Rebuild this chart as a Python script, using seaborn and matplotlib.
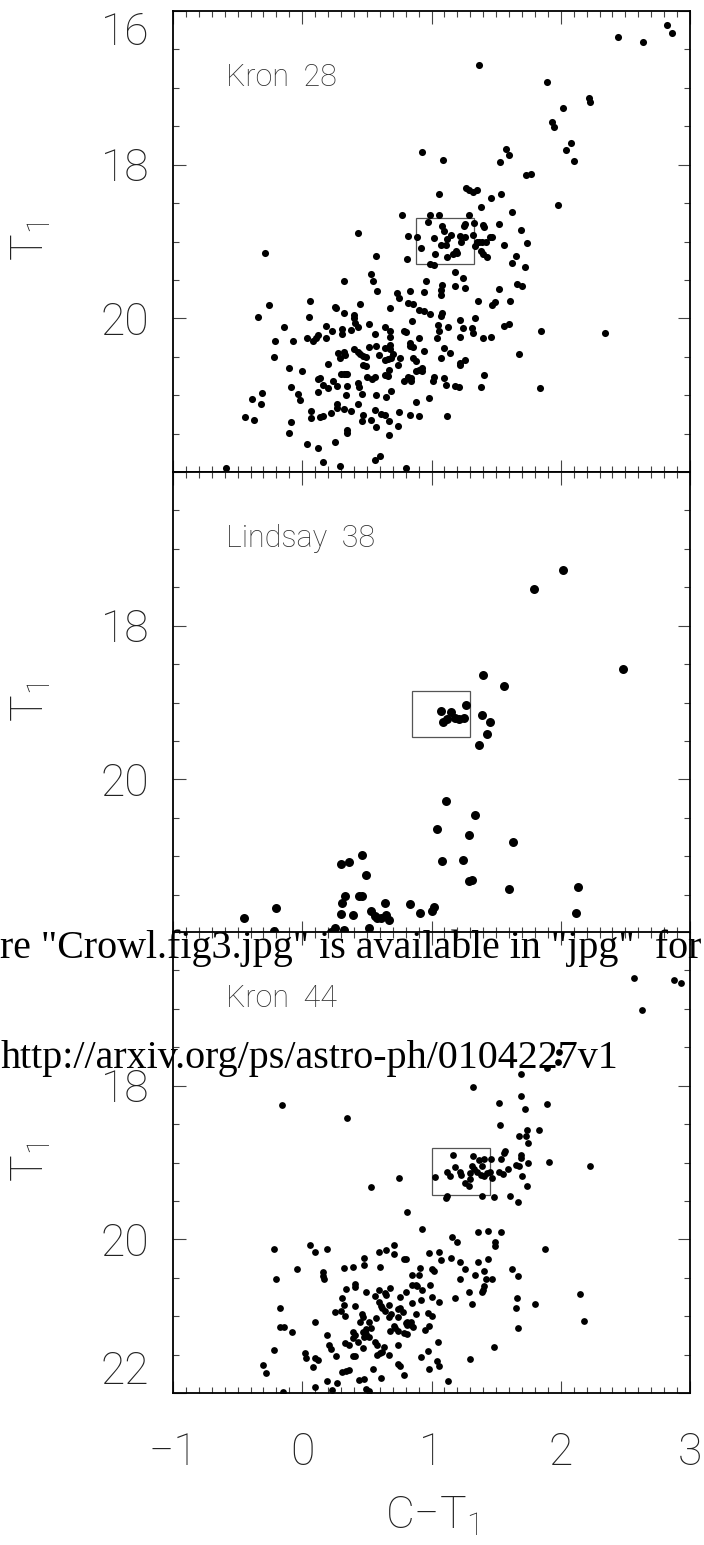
import numpy as np
import pandas as pd
import matplotlib
matplotlib.use("Agg")
import matplotlib.pyplot as plt
import seaborn as sns
from matplotlib.patches import Rectangle
from matplotlib.ticker import MultipleLocator

# (C-T1, T1)
kron28 = [
    (2.82, 16.18), (2.86, 16.29), (2.44, 16.34), (2.64, 16.40), (1.37, 16.70), (1.89, 16.93),
    (2.22, 17.13), (2.23, 17.19), (2.02, 17.26), (1.93, 17.45), (1.95, 17.51), (2.08, 17.72),
    (2.04, 17.81), (2.10, 17.95), (1.58, 17.79), (1.60, 17.87), (1.53, 17.96), (0.93, 17.84),
    (1.09, 17.94), (1.73, 18.14), (1.77, 18.12), (1.98, 18.52), (2.34, 20.19), (1.27, 18.31),
    (1.29, 18.33), (1.32, 18.36), (1.35, 18.33), (1.06, 18.38), (1.54, 18.38), (1.46, 18.44),
    (1.38, 18.55), (1.62, 18.61), (0.77, 18.66), (0.99, 18.65), (1.06, 18.65), (1.29, 18.66),
    (0.97, 18.74), (1.08, 18.80), (1.10, 18.86), (1.25, 18.80), (1.26, 18.77), (1.33, 18.76),
    (1.40, 18.79), (1.41, 18.81), (1.52, 18.77), (1.69, 18.85), (0.43, 18.89), (0.82, 18.93),
    (0.89, 18.94), (0.92, 19.08), (1.02, 18.96), (1.12, 18.97), (1.07, 19.04), (1.11, 19.04),
    (1.15, 18.91), (1.22, 18.93), (1.26, 18.94), (1.23, 19.00), (1.32, 18.91), (1.45, 18.94),
    (1.47, 18.94), (1.74, 19.02), (1.35, 19.01), (1.37, 19.01), (1.39, 19.01), (1.42, 19.01),
    (1.34, 19.06), (1.38, 19.13), (1.40, 19.16), (1.43, 19.20), (1.56, 19.05), (1.65, 19.19),
    (1.62, 19.28), (1.72, 19.33), (1.03, 19.16), (1.12, 19.20), (1.17, 19.16), (1.19, 19.13),
    (1.20, 19.15), (0.57, 19.19), (0.81, 19.23), (0.99, 19.29), (1.02, 19.30), (-0.29, 19.15),
    (1.18, 19.40), (1.24, 19.48), (0.32, 19.51), (0.53, 19.42), (0.55, 19.52), (0.58, 19.64),
    (0.96, 19.52), (1.08, 19.57), (1.07, 19.63), (1.07, 19.69), (1.18, 19.58), (1.26, 19.61),
    (1.66, 19.55), (1.70, 19.58), (1.52, 19.62), (0.73, 19.67), (0.75, 19.74), (0.83, 19.65),
    (0.94, 19.66), (1.36, 19.77), (1.49, 19.79), (1.47, 19.83), (1.61, 19.78), (0.82, 19.80),
    (0.86, 19.81), (0.68, 19.87), (0.90, 19.89), (0.94, 19.91), (0.99, 19.94), (1.08, 19.93),
    (1.07, 19.97), (0.45, 19.81), (0.06, 19.78), (-0.26, 19.83), (-0.34, 19.98), (0.05, 19.98),
    (0.25, 19.85), (0.26, 19.87), (0.32, 19.93), (0.40, 19.96), (0.40, 20.00), (0.41, 20.06),
    (0.43, 20.11), (0.52, 20.07), (0.38, 20.15), (0.31, 20.14), (0.31, 20.20), (0.23, 20.16),
    (0.18, 20.10), (0.18, 20.25), (0.12, 20.22), (0.11, 20.26), (0.04, 20.26), (0.08, 20.30),
    (-0.07, 20.29), (-0.14, 20.11), (-0.21, 20.30), (-0.22, 20.50), (0.85, 20.04), (0.56, 20.20),
    (0.64, 20.11), (0.68, 20.16), (0.68, 20.24), (0.79, 20.16), (0.80, 20.18), (1.05, 20.09),
    (1.06, 20.16), (1.13, 20.11), (1.22, 20.02), (1.24, 20.12), (1.22, 20.24), (1.31, 20.12),
    (1.32, 20.19), (1.34, 19.99), (1.40, 20.26), (1.46, 20.24), (1.56, 20.10), (1.60, 20.07),
    (1.85, 20.16), (1.04, 20.25), (0.90, 20.26), (0.83, 20.32), (0.83, 20.36), (0.86, 20.37),
    (0.94, 20.43), (1.10, 20.39), (1.14, 20.45), (1.26, 20.54), (1.22, 20.58), (1.22, 20.61),
    (1.07, 20.52), (1.68, 20.46), (1.41, 20.74), (1.38, 20.90), (1.84, 20.91), (1.18, 20.88),
    (1.21, 20.89), (1.11, 20.87), (1.10, 20.78), (1.02, 20.76), (1.01, 20.81), (1.12, 21.27),
    (0.98, 21.04), (0.88, 21.09), (0.90, 21.27), (0.83, 21.26), (0.75, 21.22), (0.74, 21.40),
    (0.67, 21.33), (0.67, 21.52), (0.64, 21.26), (0.61, 21.24), (0.56, 21.19), (0.53, 21.32),
    (0.57, 21.41), (0.47, 21.26), (0.46, 21.34), (0.38, 21.21), (0.43, 21.12), (0.34, 21.00),
    (0.32, 21.18), (0.27, 21.11), (0.27, 21.17), (0.22, 21.23), (0.35, 21.45), (0.35, 21.49),
    (0.25, 21.61), (0.16, 21.27), (0.14, 21.28), (0.07, 21.21), (0.07, 21.30), (0.12, 21.69),
    (0.04, 21.63), (0.16, 21.87), (0.29, 21.92), (0.56, 21.84), (0.60, 21.79), (0.80, 21.95),
    (-0.59, 21.95), (-0.09, 21.35), (-0.10, 21.49), (-0.44, 21.29), (-0.37, 21.32), (-0.39, 21.05),
    (-0.32, 21.12), (-0.31, 20.97), (-0.09, 20.90), (-0.03, 20.99), (-0.02, 21.06), (-0.10, 20.65),
    (0.00, 20.68), (0.12, 20.79), (0.14, 20.78), (0.16, 20.87), (0.20, 20.91), (0.12, 20.96),
    (0.24, 20.81), (0.27, 20.88), (0.28, 20.45), (0.29, 20.51), (0.32, 20.44), (0.33, 20.48),
    (0.20, 20.59), (0.30, 20.73), (0.32, 20.73), (0.34, 20.72), (0.35, 20.73), (0.40, 20.40),
    (0.43, 20.44), (0.45, 20.46), (0.47, 20.49), (0.49, 20.50), (0.52, 20.37), (0.57, 20.36),
    (0.47, 20.61), (0.49, 20.62), (0.50, 20.76), (0.54, 20.79), (0.56, 20.76), (0.35, 20.88),
    (0.43, 20.84), (0.44, 20.90), (0.46, 20.98), (0.57, 21.00), (0.64, 20.74), (0.66, 20.75),
    (0.67, 20.67), (0.64, 20.54), (0.66, 20.53), (0.69, 20.52), (0.64, 20.39), (0.68, 20.35),
    (0.68, 20.40), (0.70, 20.47), (0.59, 20.48), (0.69, 20.94), (0.65, 21.03), (0.74, 20.61),
    (0.76, 20.51), (0.79, 20.81), (0.82, 20.77), (0.84, 20.78), (0.86, 20.51), (0.88, 20.56),
    (0.90, 20.67), (0.93, 20.64), (0.93, 20.68), (0.88, 20.69), (0.84, 20.82),
]

lindsay38 = [
    (2.02, 17.28), (1.79, 17.52), (2.48, 18.56), (1.40, 18.64), (1.56, 18.79), (1.27, 19.03),
    (1.07, 19.11), (1.15, 19.13), (1.09, 19.25), (1.12, 19.22), (1.18, 19.20), (1.21, 19.21),
    (1.25, 19.20), (1.39, 19.16), (1.45, 19.25), (1.43, 19.41), (1.37, 19.55), (1.11, 20.28),
    (1.34, 20.46), (1.04, 20.65), (1.29, 20.72), (1.63, 20.82), (1.08, 21.06), (1.24, 21.05),
    (1.29, 21.32), (1.31, 21.31), (1.60, 21.43), (2.13, 21.40), (2.12, 21.74), (0.30, 21.10),
    (0.36, 21.07), (0.46, 20.99), (0.49, 21.25), (0.33, 21.52), (0.31, 21.61), (0.44, 21.52),
    (0.46, 21.52), (0.30, 21.75), (0.39, 21.77), (-0.45, 21.80), (-0.20, 21.68), (-0.22, 21.97),
    (0.25, 21.94), (0.32, 21.96), (0.52, 21.93), (0.53, 21.72), (0.56, 21.78), (0.58, 21.80),
    (0.61, 21.81), (0.65, 21.76), (0.67, 21.83), (0.64, 21.61), (0.83, 21.62), (0.91, 21.74),
    (1.00, 21.72), (1.02, 21.66), (0.22, 21.99),
]

kron44 = [
    (2.57, 16.60), (2.88, 16.62), (2.93, 16.67), (2.63, 17.02), (1.98, 17.69), (1.99, 17.56),
    (1.89, 17.77), (1.69, 17.85), (1.32, 18.02), (-0.16, 18.25), (0.35, 18.42), (1.69, 18.14),
    (1.52, 18.23), (1.72, 18.30), (1.89, 18.24), (1.53, 18.51), (1.74, 18.58), (1.73, 18.65),
    (1.68, 18.66), (1.83, 18.58), (1.75, 18.75), (1.57, 18.85), (1.56, 18.87), (1.17, 18.90),
    (1.32, 18.92), (1.37, 18.97), (1.41, 18.95), (1.46, 18.95), (1.54, 18.95), (1.69, 18.90),
    (1.69, 18.94), (1.75, 19.00), (1.91, 18.99), (2.23, 19.04), (1.18, 19.06), (1.12, 19.13),
    (1.14, 19.17), (1.22, 19.13), (1.23, 19.16), (1.03, 19.19), (1.31, 19.05), (1.33, 19.09),
    (1.35, 19.13), (1.39, 19.05), (1.30, 19.14), (1.38, 19.16), (1.41, 19.17), (1.43, 19.14),
    (1.45, 19.12), (1.47, 19.20), (1.52, 19.12), (1.55, 19.15), (1.59, 19.08), (1.65, 19.03),
    (1.68, 19.05), (1.70, 19.18), (1.74, 19.30), (1.30, 19.22), (1.26, 19.27), (1.29, 19.31),
    (0.75, 19.20), (0.53, 19.32), (1.12, 19.43), (1.11, 19.46), (1.39, 19.43), (1.48, 19.45),
    (1.61, 19.44), (0.81, 19.64), (0.93, 19.86), (1.67, 19.52), (1.36, 19.90), (1.44, 19.89),
    (1.54, 19.91), (1.16, 19.97), (1.20, 20.03), (1.49, 20.03), (1.49, 20.09), (1.88, 20.13),
    (-0.22, 20.12), (0.06, 20.07), (0.10, 20.17), (0.19, 20.13), (0.71, 20.08), (0.71, 20.19),
    (0.59, 20.17), (0.65, 20.14), (0.48, 20.24), (0.48, 20.34), (0.79, 20.26), (0.80, 20.26),
    (0.98, 20.18), (1.06, 20.17), (1.07, 20.27), (1.15, 20.24), (1.22, 20.29), (1.26, 20.38),
    (1.36, 20.30), (1.44, 20.25), (1.62, 20.38), (1.67, 20.48), (1.34, 20.47), (1.41, 20.41),
    (1.42, 20.51), (1.47, 20.51), (1.41, 20.61), (1.39, 20.68), (1.40, 20.66), (1.29, 20.69),
    (1.31, 20.84), (1.22, 20.51), (1.18, 20.77), (1.66, 20.77), (1.65, 20.90), (1.80, 20.84),
    (1.67, 21.15), (1.48, 21.40), (1.30, 21.56), (2.15, 20.71), (2.18, 21.06), (-0.04, 20.38),
    (-0.20, 20.52), (0.16, 20.43), (0.17, 20.52), (0.16, 20.48), (0.32, 20.37), (0.39, 20.36),
    (0.60, 20.36), (0.85, 20.47), (0.90, 20.47), (0.91, 20.37), (1.00, 20.38), (1.02, 20.41),
    (0.34, 20.64), (0.41, 20.58), (0.41, 20.62), (0.49, 20.68), (0.68, 20.63), (0.59, 20.66),
    (0.64, 20.70), (0.65, 20.72), (0.80, 20.68), (0.85, 20.60), (0.88, 20.59), (0.89, 20.61),
    (0.93, 20.66), (0.99, 20.59), (1.00, 20.75), (1.06, 20.81), (0.92, 20.79), (0.76, 20.75),
    (0.56, 20.74), (0.31, 20.77), (0.32, 20.85), (0.41, 20.87), (0.59, 20.82), (0.61, 20.87),
    (0.62, 20.90), (0.64, 20.93), (0.67, 20.85), (0.85, 20.83), (0.25, 20.95), (0.30, 20.93),
    (0.33, 21.00), (0.46, 20.97), (0.47, 21.01), (0.57, 21.03), (0.69, 20.97), (0.67, 21.01),
    (0.74, 20.91), (0.76, 20.90), (0.78, 20.94), (0.74, 21.01), (0.88, 20.97), (0.81, 21.07),
    (0.84, 21.07), (0.97, 20.96), (1.00, 21.00), (0.10, 21.08), (-0.17, 20.90), (-0.17, 21.14),
    (-0.14, 21.14), (-0.08, 21.21), (0.45, 21.08), (0.52, 21.08), (0.49, 21.17), (0.53, 21.15),
    (0.39, 21.21), (0.41, 21.24), (0.39, 21.28), (0.47, 21.20), (0.49, 21.23), (0.48, 21.27),
    (0.52, 21.27), (0.71, 21.13), (0.72, 21.16), (0.68, 21.19), (0.74, 21.19), (0.80, 21.09),
    (0.81, 21.11), (0.79, 21.22), (0.81, 21.23), (0.84, 21.11), (0.86, 21.14), (0.95, 21.18),
    (0.98, 21.13), (0.19, 21.25), (0.21, 21.37), (0.22, 21.43), (0.33, 21.35), (0.36, 21.37),
    (0.43, 21.34), (0.56, 21.34), (0.58, 21.37), (0.63, 21.40), (0.74, 21.38), (0.26, 21.52),
    (0.39, 21.52), (0.41, 21.52), (0.47, 21.42), (0.58, 21.51), (0.60, 21.48), (0.62, 21.47),
    (0.67, 21.50), (1.05, 21.33), (0.97, 21.45), (0.92, 21.53), (1.04, 21.59), (1.06, 21.65),
    (0.98, 21.69), (0.74, 21.62), (0.76, 21.65), (0.79, 21.77), (0.55, 21.69), (0.61, 21.80),
    (0.31, 21.73), (0.34, 21.71), (0.36, 21.70), (0.44, 21.83), (0.48, 21.82), (0.19, 21.84),
    (0.27, 21.87), (0.10, 21.92), (0.23, 21.96), (0.49, 21.95), (0.52, 21.97), (-0.15, 21.99),
    (1.13, 21.84), (0.02, 21.48), (0.03, 21.55), (0.10, 21.55), (0.12, 21.57), (0.08, 21.66),
    (-0.22, 21.44), (-0.30, 21.64), (-0.28, 21.74),
]

cluster_names = ["Kron  28", "Lindsay  38", "Kron  44"]
# red clump boxes: (C-T1 min, C-T1 max, T1 min, T1 max)
clump_boxes = [(0.88, 1.33, 18.70, 19.29), (0.85, 1.30, 18.85, 19.45), (1.00, 1.45, 18.81, 19.42)]
ytick_values = [16, 18, 20, 22]
ytick_labels = [["16", "18", "20", ""], ["", "18", "20", ""], ["", "18", "20", "22"]]
xtick_values = [-1, 0, 1, 2, 3]
xtick_labels = ["\u22121", "0", "1", "2", "3"]
dot_sizes = [26, 42, 24]

sns.set_style("ticks")
plt.rcParams["font.family"] = ["Roboto", "DejaVu Sans"]
plt.rcParams["font.weight"] = "light"
plt.rcParams["mathtext.fontset"] = "custom"
plt.rcParams["mathtext.rm"] = "Roboto:light"
plt.rcParams["mathtext.it"] = "Roboto:light"
plt.rcParams["mathtext.default"] = "rm"

fig = plt.figure(figsize=(7.04, 15.45), dpi=100)
left, width, height = 173 / 704, 517 / 704, 461 / 1545
bottoms = [(1545 - 472) / 1545, (1545 - 933) / 1545, (1545 - 1393) / 1545]

for i, pts in enumerate([kron28, lindsay38, kron44]):
    df = pd.DataFrame(pts, columns=["CT1", "T1"])
    ax = fig.add_axes([left, bottoms[i], width, height])
    sns.scatterplot(data=df, x="CT1", y="T1", ax=ax, color="black", s=dot_sizes[i],
                    linewidth=0, legend=False, zorder=3)
    ax.set_xlim(-1, 3)
    ax.set_ylim(22, 16)
    ax.xaxis.set_minor_locator(MultipleLocator(0.1))
    ax.yaxis.set_minor_locator(MultipleLocator(0.5))
    ax.set_yticks(ytick_values, labels=ytick_labels[i])
    if i == 2:
        ax.set_xticks(xtick_values, labels=xtick_labels)
    else:
        ax.set_xticks(xtick_values)
        ax.tick_params(labelbottom=False)
    ax.tick_params(which="both", direction="in", top=True, right=True, color="#444")
    ax.tick_params(which="major", length=9, width=0.8, labelsize=32, labelcolor="#222")
    ax.tick_params(axis="y", which="major", pad=17)
    ax.tick_params(axis="x", which="major", pad=28)
    ax.tick_params(which="minor", length=4.5, width=0.8)
    # end labels are kept inside the frame, as in the original plot
    ylabs = ax.get_yticklabels()
    ylabs[0].set_verticalalignment("top")
    ylabs[-1].set_verticalalignment("bottom")
    for sp in ax.spines.values():
        sp.set_linewidth(1.3)
        sp.set_color("black")
    ax.set_xlabel("")
    ax.set_ylabel(r"$\mathrm{T_1}$", fontsize=32, color="#222")
    ax.yaxis.set_label_coords(-0.232, 0.5)

    b = clump_boxes[i]
    ax.add_patch(Rectangle((b[0], b[2]), b[1] - b[0], b[3] - b[2], fill=False,
                           edgecolor="#555", linewidth=0.9, zorder=2))
    ax.text(-0.59, 16.86, cluster_names[i], fontsize=22, ha="left", va="center",
            color="#333", fontweight="light")

    if i == 2:
        ax.set_xlabel(r"$\mathrm{C{-}T_1}$", fontsize=32, color="#222", labelpad=15)

# scanned-page banner lying over the figure
fig.text(0.0, 1 - 958 / 1545, 're "Crowl.fig3.jpg" is available in "jpg"  for',
         family=["Liberation Serif", "DejaVu Serif"], fontsize=28.8, ha="left", va="baseline",
         color="black")
fig.text(1 / 704, 1 - 1068 / 1545, "http://arxiv.org/ps/astro-ph/0104227v1",
         family=["Liberation Serif", "DejaVu Serif"], fontsize=28.8, ha="left", va="baseline",
         color="black")

fig.savefig("out.png", dpi=100, facecolor="white")
